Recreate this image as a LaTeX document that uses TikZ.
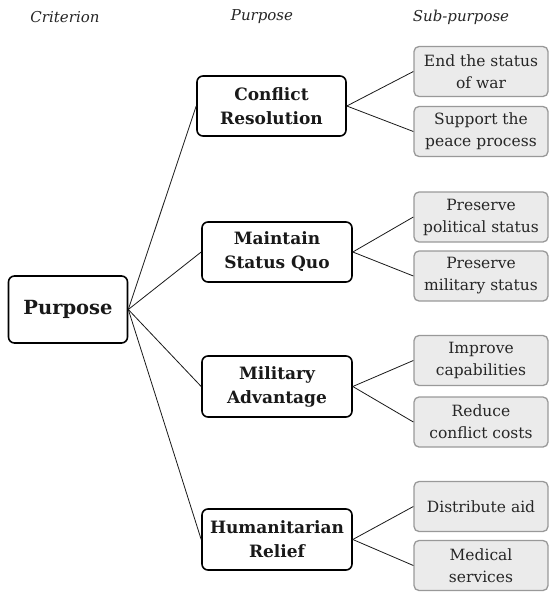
\documentclass[tikz,border=0pt]{standalone}
\usepackage{fontspec}
\setmainfont{DejaVu Serif}
\usepackage{tikz}

\begin{document}
\begin{tikzpicture}[x=1pt,y=-1pt,
    every node/.style={inner sep=2pt, align=center},
    head/.style={font=\fontsize{15}{18}\selectfont\itshape, text=black!85},
    rootbox/.style={draw, line width=1.6pt, rounded corners=6pt, fill=white,
        minimum width=119pt, minimum height=67pt, font=\fontsize{19.5}{24}\selectfont\bfseries, text=black!90},
    purpbox/.style={draw, line width=1.6pt, rounded corners=6pt, fill=white,
        minimum width=150pt, minimum height=60pt, font=\fontsize{17}{24}\selectfont\bfseries, text=black!90},
    subbox/.style={draw=black!40, line width=1.3pt, rounded corners=5pt, fill=black!8,
        minimum width=134pt, minimum height=50pt, font=\fontsize{15.5}{22}\selectfont, text=black!85},
    link/.style={line width=0.8pt, black!90}]
                \useasboundingbox (0,0) rectangle (549,592);

                \node[head] (h1) at (65,17) {Criterion};
                \node[head] (h2) at (262,17) {Purpose};
                \node[head] (h3) at (461,17) {Sub-purpose};

                \node[rootbox] (r) at (68,309.5) {Purpose};

                \node[purpbox, minimum width=149pt] (p1) at (271.5,106) {Conflict\\Resolution};
                \node[purpbox] (p2) at (277,252) {Maintain\\Status Quo};
                \node[purpbox, minimum height=61pt] (p3) at (277,386.5) {Military\\Advantage};
                \node[purpbox, minimum height=61pt] (p4) at (277,539.5) {Humanitarian\\Relief};

                \draw[link] (r.east)--(p1.west);
                \draw[link] (r.east)--(p2.west);
                \draw[link] (r.east)--(p3.west);
                \draw[link] (r.east)--(p4.west);

                \node[subbox] (s1) at (481,71.5) {End the status\\of war};
                \node[subbox] (t1) at (481,131.5) {Support the\\peace process};
                \node[subbox] (s2) at (481,217) {Preserve\\political status};
                \node[subbox] (t2) at (481,276) {Preserve\\military status};
                \node[subbox] (s3) at (481,360.5) {Improve\\capabilities};
                \node[subbox] (t3) at (481,422) {Reduce\\conflict costs};
                \node[subbox] (s4) at (481,506.5) {Distribute aid};
                \node[subbox] (t4) at (481,565.5) {Medical\\services};

                \draw[link] (p1.east)--(s1.west);
                \draw[link] (p1.east)--(t1.west);
                \draw[link] (p2.east)--(s2.west);
                \draw[link] (p2.east)--(t2.west);
                \draw[link] (p3.east)--(s3.west);
                \draw[link] (p3.east)--(t3.west);
                \draw[link] (p4.east)--(s4.west);
                \draw[link] (p4.east)--(t4.west);
            \end{tikzpicture}
\end{document}
